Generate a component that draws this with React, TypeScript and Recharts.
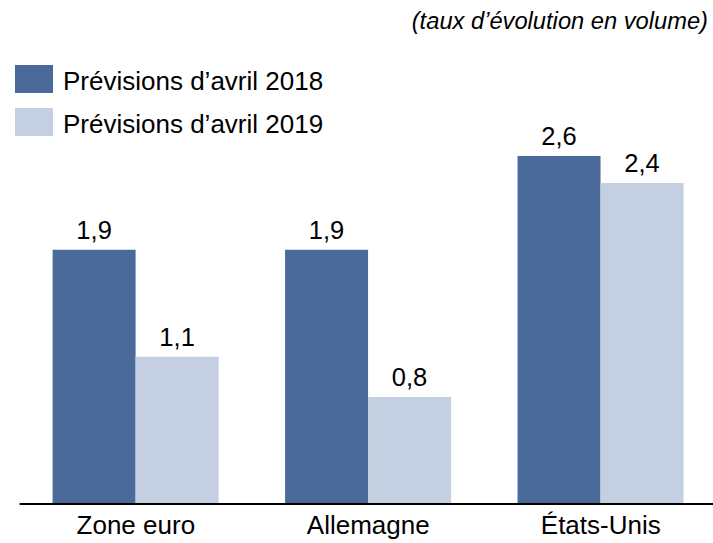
import React from "react";
import { BarChart, Bar, XAxis, YAxis, Legend, LabelList } from "recharts";

const categories = ["Zone euro", "Allemagne", "États-Unis"];
const prev2018 = [1.9, 1.9, 2.6];
const prev2019 = [1.1, 0.8, 2.4];
const seriesNames = ["Prévisions d’avril 2018", "Prévisions d’avril 2019"];
const subtitle = "(taux d’évolution en volume)";

const DARK = "#4a6a99";
const LIGHT = "#c4cfe1";
const FONT = '"Liberation Sans", Arial, Helvetica, sans-serif';

const data = categories.map((name, i) => ({
  name,
  a: prev2018[i],
  b: prev2019[i],
}));

const fmt = (v: any) => String(v).replace(".", ",");

function LegendBox({ payload }: any) {
  return (
    <div style={{ fontFamily: FONT }}>
      {(payload || []).map((item: any, i: number) => (
        <div
          key={i}
          style={{ display: "flex", alignItems: "flex-start", height: 43 }}
        >
          <div style={{ width: 38, height: 28, background: item.color }} />
          <span
            style={{
              marginLeft: 10,
              fontSize: 26,
              lineHeight: "28px",
              paddingTop: 2,
              color: "#000",
              whiteSpace: "nowrap",
            }}
          >
            {item.value}
          </span>
        </div>
      ))}
    </div>
  );
}

export default function App() {
  return (
    <div
      style={{
        position: "fixed",
        left: 0,
        top: 0,
        width: 713,
        height: 543,
        overflow: "hidden",
        background: "#fff",
        fontFamily: FONT,
      }}
    >
      <div
        style={{
          position: "absolute",
          right: 5,
          top: 8,
          fontSize: 23.7,
          fontStyle: "italic",
          color: "#000",
          whiteSpace: "nowrap",
        }}
      >
        {subtitle}
      </div>
      <BarChart
        width={717}
        height={543}
        data={data}
        margin={{ top: 102.6, right: 0, left: 19.6, bottom: 0 }}
        barGap={0}
        barSize={83}
      >
        <XAxis
          dataKey="name"
          height={39}
          tickLine={false}
          axisLine={{ stroke: "#000", strokeWidth: 2 }}
          tickMargin={6}
          tick={{ fill: "#000", fontSize: 26, fontFamily: FONT }}
          interval={0}
        />
        <YAxis hide domain={[0, 3]} />
        <Legend
          verticalAlign="middle"
          align="center"
          layout="vertical"
          wrapperStyle={{ top: 65, left: 15, width: 400, height: 90 }}
          content={<LegendBox />}
        />
        <Bar dataKey="a" name={seriesNames[0]} fill={DARK} isAnimationActive={false}>
          <LabelList
            dataKey="a"
            position="top"
            offset={11}
            formatter={fmt}
            style={{ fill: "#000", fontSize: 25.5, fontFamily: FONT }}
          />
        </Bar>
        <Bar dataKey="b" name={seriesNames[1]} fill={LIGHT} isAnimationActive={false}>
          <LabelList
            dataKey="b"
            position="top"
            offset={11}
            formatter={fmt}
            style={{ fill: "#000", fontSize: 25.5, fontFamily: FONT }}
          />
        </Bar>
      </BarChart>
    </div>
  );
}
